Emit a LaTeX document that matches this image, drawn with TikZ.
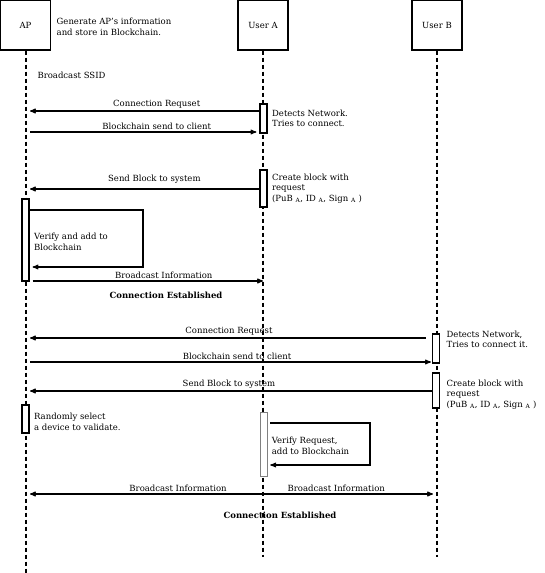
\documentclass[tikz,border=0pt]{standalone}
\usepackage{fontspec}
\setmainfont{DejaVu Serif}
\usetikzlibrary{arrows,positioning}
\begin{document}
\begin{tikzpicture}[x=1pt,y=-1pt,>=stealth',line width=1.1pt,node distance=3pt,
    font=\fontsize{8.5}{10.5}\selectfont,
    actor/.style={draw,line width=1.3pt,minimum width=50pt,minimum height=50pt,inner sep=0pt},
    life/.style={line width=1.4pt,dash pattern=on 4pt off 3pt},
    act/.style={draw,fill=white,line width=1.2pt,minimum width=7pt,inner sep=0pt},
    note/.style={align=left,inner sep=1pt},
    lbl/.style={above=2pt,inner sep=0pt}]
\useasboundingbox (0,0) rectangle (544,573);
% participants and lifelines
\node[actor] (ap) at (25.5,25) {AP};
\node[actor] (usera) at (263,25) {User A};
\node[actor] (userb) at (437,25) {User B};
\coordinate (apend) at (26,573);
\coordinate (uaend) at (263,557);
\coordinate (ubend) at (437,557);
\draw[life] (ap.south -| apend) -- (apend);
\draw[life] (usera) -- (uaend);
\draw[life] (userb) -- (ubend);
% message levels
\foreach \n/\y in {1/111,2/132,3/189,4/210,5/267,6/281,7/338,8/362,9/391,10/423,11/465,12/494}
  \coordinate (y\n) at (0,\y);
\coordinate (l1) at (143,0);
\coordinate (l2) at (370,0);
% activations
\node[act,minimum height=29pt] (a1) at (263.5,118.5) {};
\node[act,minimum height=37pt] (a2) at (263.5,188.5) {};
\node[act,minimum height=82pt] (p1) at (25.5,240) {};
\node[act,minimum height=29pt] (b1) at (436,348.5) {};
\node[act,minimum height=35pt] (b2) at (436,390.5) {};
\node[act,minimum height=28pt] (p2) at (25.5,419) {};
\node[act,minimum height=64pt,draw=gray,line width=.6pt] (a3) at (263.5,444) {};
% notes
\node[note,right=4pt of ap,yshift=-2pt] (gen) {Generate AP's information\\and store in Blockchain.};
\node[note,anchor=west] (ssid) at (36,75) {Broadcast SSID};
\node[note,right=of a1] (det1) {Detects Network.\\Tries to connect.};
\node[note,right=of a2] (blk1) {Create block with\\request\\(PuB \textsubscript{A}, ID \textsubscript{A}, Sign \textsubscript{A} )};
\node[note,right=of p1,yshift=-2pt] (ver1) {Verify and add to\\Blockchain};
\node[note,right=5pt of b1,yshift=9pt] (det2) {Detects Network,\\Tries to connect it.};
\node[note,right=5pt of b2,yshift=-4pt] (blk2) {Create block with\\request\\(PuB \textsubscript{A}, ID \textsubscript{A}, Sign \textsubscript{A} )};
\node[note,right=of p2,yshift=-3pt] (rnd) {Randomly select\\a device to validate.};
\node[note,right=of a3,yshift=-2pt] (ver2) {Verify Request,\\add to Blockchain};
\node (est1) at (166,295) {\textbf{Connection Established}};
\node (est2) at (280,515) {\textbf{Connection Established}};
% messages
\draw[->,shorten >=4pt] (a1.west |- y1) -- (apend |- y1) node[lbl,pos=.44] {Connection Requset};
\draw[->,shorten <=4pt,shorten >=3pt] (apend |- y2) -- (a1.west |- y2) node[lbl,pos=.56] {Blockchain send to client};
\draw[->,shorten >=4pt] (a2.west |- y3) -- (apend |- y3) node[lbl,above=5.5pt,pos=.45] {Send Block to system};
\draw[->,shorten >=3pt] (p1.east |- y4) -| (l1 |- y5) -- (p1.east |- y5);
\draw[->,shorten <=3pt] (p1.east |- y6) -- (usera |- y6) node[lbl,pos=.575] {Broadcast Information};
\draw[->,shorten <=6pt,shorten >=4pt] (b1.west |- y7) -- (apend |- y7) node[lbl,pos=.5] {Connection Request};
\draw[->,shorten <=4pt,shorten >=1pt] (apend |- y8) -- (b1.west |- y8) node[lbl,pos=.52] {Blockchain send to client};
\draw[->,shorten >=4pt] (b2.west |- y9) -- (apend |- y9) node[lbl,pos=.5] {Send Block to system};
\draw[->,shorten <=3pt,shorten >=3pt] (a3.east |- y10) -| (l2 |- y11) -- (a3.east |- y11);
\draw[<->,shorten <=4pt,shorten >=4pt] (apend |- y12) -- (userb |- y12)
  node[lbl,pos=.37] {Broadcast Information} node[lbl,pos=.755] {Broadcast Information};
\end{tikzpicture}
\end{document}
